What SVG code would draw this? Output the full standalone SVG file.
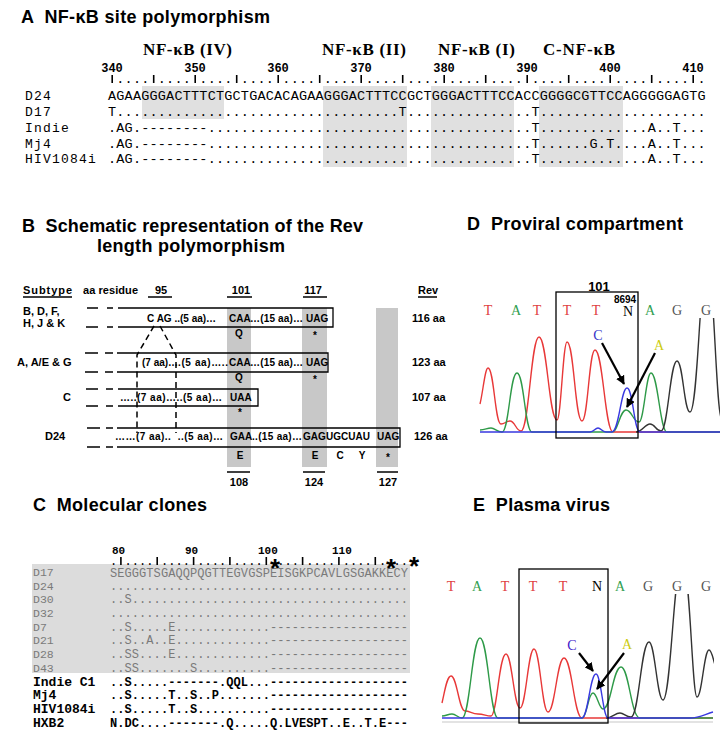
<svg xmlns="http://www.w3.org/2000/svg" width="720" height="736" viewBox="0 0 720 736">
<defs>
<style>
.ttl{font-family:"Liberation Sans",Arial,sans-serif;font-weight:bold;font-size:18px;fill:#000}
.nfk{font-family:"Liberation Serif","Times New Roman",serif;font-weight:bold;font-size:17px}
.num{font-family:"Liberation Mono","Courier New",monospace;font-weight:bold;font-size:12px}
.seq{font-family:"Liberation Mono","Courier New",monospace;font-size:13.5px}
.lbl{font-family:"Liberation Mono","Courier New",monospace;font-size:13px;letter-spacing:1.2px}
.bt{font-family:"Liberation Sans",Arial,sans-serif;font-weight:bold;font-size:10px}
.bh{font-family:"Liberation Sans",Arial,sans-serif;font-weight:bold;font-size:11px}
.base{font-family:"Liberation Serif","Times New Roman",serif;font-size:14px;text-anchor:middle}
.cseq{font-family:"Liberation Mono","Courier New",monospace;font-size:12px}
.cg{fill:#7a7a7a}
.clb{font-family:"Liberation Mono","Courier New",monospace;font-size:11.5px}
.clbb{font-family:"Liberation Mono","Courier New",monospace;font-size:13px;font-weight:bold}
.box{fill:none;stroke:#000;stroke-width:1.3}
.ln{stroke:#000;stroke-width:1.5}
.tick{stroke:#000;stroke-width:1.6}
.dash{stroke:#000;stroke-width:1.5;stroke-dasharray:6 4;fill:none}
.tr{fill:none;stroke-width:1.4}
.arr{stroke:#000;stroke-width:2.2;marker-end:url(#ah)}
.mid{text-anchor:middle}
</style>
<marker id="ah" viewBox="0 0 10 10" refX="9" refY="5" markerWidth="9" markerHeight="9" markerUnits="userSpaceOnUse" orient="auto"><path d="M0,0 L10,5 L0,10 z" fill="#000"/></marker>
<clipPath id="cD"><rect x="478" y="318" width="242" height="120"/></clipPath>
<clipPath id="cE"><rect x="440" y="594" width="274" height="130"/></clipPath>
</defs>
<rect width="720" height="736" fill="#fff"/>

<g id="panelA">
<text class="ttl" x="21" y="23" textLength="249" xml:space="preserve">A  NF-κB site polymorphism</text>
<g fill="#e0e0e0">
<rect x="142" y="86" width="82" height="33"/>
<rect x="323" y="86" width="84" height="81"/>
<rect x="431" y="86" width="83" height="81"/>
<rect x="539" y="86" width="84" height="81"/>
</g>
<text class="nfk" x="143" y="55" textLength="89">NF-κB (IV)</text>
<text class="nfk" x="322" y="55" textLength="84">NF-κB (II)</text>
<text class="nfk" x="438" y="55" textLength="77">NF-κB (I)</text>
<text class="nfk" x="543" y="55" textLength="72">C-NF-κB</text>
<g class="num mid">
<text x="112" y="72">340</text><text x="195" y="72">350</text><text x="278" y="72">360</text><text x="361" y="72">370</text>
<text x="444" y="72">380</text><text x="527" y="72">390</text><text x="610" y="72">400</text><text x="693" y="72">410</text>
</g>
<text class="seq" x="108" y="83" textLength="597.6" xml:space="preserve"> .... .... .... .... .... .... .... .... .... .... .... .... .... .... .</text>
<g class="tick">
<line x1="112.2" y1="75" x2="112.2" y2="83"/><line x1="153.7" y1="75" x2="153.7" y2="83"/><line x1="195.2" y1="75" x2="195.2" y2="83"/>
<line x1="236.7" y1="75" x2="236.7" y2="83"/><line x1="278.2" y1="75" x2="278.2" y2="83"/><line x1="319.7" y1="75" x2="319.7" y2="83"/>
<line x1="361.2" y1="75" x2="361.2" y2="83"/><line x1="402.7" y1="75" x2="402.7" y2="83"/><line x1="444.2" y1="75" x2="444.2" y2="83"/>
<line x1="485.7" y1="75" x2="485.7" y2="83"/><line x1="527.2" y1="75" x2="527.2" y2="83"/><line x1="568.7" y1="75" x2="568.7" y2="83"/>
<line x1="610.2" y1="75" x2="610.2" y2="83"/><line x1="651.7" y1="75" x2="651.7" y2="83"/><line x1="693.2" y1="75" x2="693.2" y2="83"/>
</g>
<g class="lbl">
<text x="25" y="100">D24</text>
<text x="25" y="116">D17</text>
<text x="25" y="132">Indie</text>
<text x="25" y="148">Mj4</text>
<text x="25" y="163">HIV1084i</text>
</g>
<g class="seq">
<text x="108" y="100" textLength="597.6">AGAAGGGACTTTCTGCTGACACAGAAGGGACTTTCCGCTGGGACTTTCCACCGGGGCGTTCCAGGGGGAGTG</text>
<text x="108" y="116" textLength="597.6">T..................................T...............T....................</text>
<text x="108" y="132" textLength="597.6">.AG.--------.......................................T.............A..T...</text>
<text x="108" y="148" textLength="597.6">.AG.--------.......................................T......G.T....A..T...</text>
<text x="108" y="163" textLength="597.6">.AG.--------.......................................T.............A..T...</text>
</g>
</g>

<g id="panelB">
<text class="ttl" x="22" y="232" textLength="341" xml:space="preserve">B  Schematic representation of the Rev</text>
<text class="ttl" x="97" y="252" textLength="188">length polymorphism</text>
<g fill="#c8c8c8">
<rect x="227" y="308" width="24" height="159"/>
<rect x="302" y="308" width="25" height="159"/>
<rect x="376" y="308" width="22" height="159"/>
</g>
<g class="bh">
<text x="23" y="294" textLength="49">Subtype</text>
<text x="83" y="294" textLength="55">aa residue</text>
<text x="161" y="294" class="mid">95</text>
<text x="241" y="294" class="mid">101</text>
<text x="313" y="294" class="mid">117</text>
<text x="418" y="294">Rev</text>
<text x="23" y="315">B, D, F,</text>
<text x="23" y="327">H, J &amp; K</text>
<text x="17" y="366">A, A/E &amp; G</text>
<text x="63" y="401">C</text>
<text x="45" y="440">D24</text>
<text x="412" y="322">116 aa</text>
<text x="412" y="366">123 aa</text>
<text x="412" y="401">107 aa</text>
<text x="414" y="440">126 aa</text>
<text x="239" y="486" class="mid">108</text>
<text x="314" y="486" class="mid">124</text>
<text x="388" y="486" class="mid">127</text>
</g>
<g class="ln">
<line x1="23" y1="297" x2="72" y2="297"/>
<line x1="148" y1="297" x2="172" y2="297"/>
<line x1="227" y1="297" x2="252" y2="297"/>
<line x1="303" y1="297" x2="327" y2="297"/>
<line x1="418" y1="297" x2="437" y2="297"/>
<line x1="227" y1="472" x2="250" y2="472"/>
<line x1="303" y1="472" x2="325" y2="472"/>
<line x1="377" y1="472" x2="398" y2="472"/>
<line x1="87" y1="308" x2="98" y2="308"/><line x1="107" y1="308" x2="113" y2="308"/>
<line x1="86" y1="327" x2="98" y2="327"/><line x1="107" y1="327" x2="113" y2="327"/>
<line x1="85" y1="353" x2="98" y2="353"/><line x1="105" y1="353" x2="113" y2="353"/>
<line x1="85" y1="372" x2="98" y2="372"/><line x1="105" y1="372" x2="113" y2="372"/>
<line x1="86" y1="389" x2="98" y2="389"/><line x1="106" y1="389" x2="113" y2="389"/>
<line x1="86" y1="406" x2="98" y2="406"/><line x1="106" y1="406" x2="113" y2="406"/>
<line x1="87" y1="428" x2="100" y2="428"/><line x1="106" y1="428" x2="113" y2="428"/>
<line x1="87" y1="447" x2="100" y2="447"/><line x1="106" y1="447" x2="113" y2="447"/>
</g>
<path class="box" d="M118 308 H333 V327 H118"/>
<path class="box" d="M117 353 H328 V372 H117"/>
<path class="box" d="M118 389 H258 V406 H118"/>
<path class="box" d="M117 428 H400 V447 H117"/>
<path class="dash" d="M154 326 L137 355 L137 433"/>
<path class="dash" d="M160 326 L176 355 L176 433"/>
<g class="bt">
<text x="147" y="322">C AG ..(5 aa)…</text>
<text x="229" y="322">CAA</text>
<text x="250" y="322" textLength="53">…(15 aa)…</text>
<text x="306" y="322">UAG</text>
<text x="142" y="366">(7 aa)…</text>
<text x="178" y="366" textLength="50">.(5 aa)…..</text>
<text x="229" y="366">CAA</text>
<text x="250" y="366" textLength="53">…(15 aa)…</text>
<text x="306" y="366">UAG</text>
<text x="120" y="401" textLength="102">…..(7 aa)…..(5 aa)…</text>
<text x="230" y="401">UAA</text>
<text x="115" y="440" textLength="108" xml:space="preserve">……(7 aa)..  ..(5 aa)…</text>
<text x="230" y="440">GAA</text>
<text x="252" y="440" textLength="50">..(15 aa)…</text>
<text x="303" y="440" textLength="67">GAGUGCUAU</text>
<text x="377" y="440">UAG</text>
<g class="mid">
<text x="239" y="337">Q</text><text x="315" y="339">*</text>
<text x="239" y="381">Q</text><text x="315" y="383">*</text>
<text x="240" y="416">*</text>
<text x="240" y="459">E</text><text x="315" y="459">E</text><text x="340" y="459">C</text><text x="362" y="459">Y</text><text x="388" y="461">*</text>
</g>
</g>
</g>

<g id="panelD">
<text class="ttl" x="467" y="230" textLength="216" xml:space="preserve">D  Proviral compartment</text>
<text x="599" y="291" class="mid" style="font-family:'Liberation Sans',Arial,sans-serif;font-weight:bold;font-size:13px">101</text>
<text x="625" y="303" class="mid" style="font-family:'Liberation Sans',Arial,sans-serif;font-weight:bold;font-size:10px">8694</text>
<g class="base">
<text x="488" y="315" fill="#e04040">T</text><text x="516" y="315" fill="#30a050">A</text><text x="537" y="315" fill="#e04040">T</text>
<text x="567" y="315" fill="#e04040">T</text><text x="596" y="315" fill="#e04040">T</text><text x="628" y="316" fill="#000">N</text>
<text x="650" y="315" fill="#30a050">A</text><text x="677" y="315" fill="#555">G</text><text x="706" y="315" fill="#555">G</text>
</g>
<g clip-path="url(#cD)">
<path class="tr" stroke="#e83838" d="M480 404 C483 392,485 368,488 368 C494 368,495 424,501 424 C505 424,506 421,510 421 C515 421,516 431,521 431 C529 431,531 337,539 337 C547 337,549 420,557 420 C561 420,563 342,567 342 C574 342,575 421,582 421 C588 421,589 350,595 350 C603 350,605 432,613 432 H720"/>
<path class="tr" stroke="#2e9a48" d="M480 430 C485 430,487 428,491 428 C495 428,497 432,502 432 C509 432,510 373,517 373 C524 373,525 432,532 432 H612 C618 432,620 410,626 410 C632 410,633 422,639 422 C644 422,646 373,651 373 C658 373,660 432,667 432 H720"/>
<path class="tr" stroke="#333" d="M636 432 C642 432,645 424,650 424 C655 424,656 431,661 431 C668 431,670 361,677 361 C683 361,684 412,690 412 C698 412,700 262,707 262 C714 262,716 420,722 420"/>
<path class="tr" stroke="#3838e0" d="M480 432 H590 C594 432,595 428,598 428 C601 428,602 432,606 432 H612 C619 432,621 388,627 388 C633 388,634 432,640 432 H720"/>
</g>
<rect class="box" x="556" y="292" width="82" height="146"/>
<text x="598" y="340" class="base" fill="#3535c8">C</text>
<text x="659" y="350" class="base" fill="#cccc10">A</text>
</g>

<g id="panelC">
<text class="ttl" x="33" y="511" textLength="174" xml:space="preserve">C  Molecular clones</text>
<rect x="32" y="564" width="378" height="109" fill="#dcdcdc"/>
<g class="num" style="font-size:11px">
<text x="112" y="554">80</text><text x="185" y="554">90</text><text x="258" y="554">100</text><text x="332" y="554">110</text>
</g>
<text class="cseq" x="110" y="565" textLength="298" xml:space="preserve">. .... .... .... .... .... .... .... ....</text>
<g class="tick">
<line x1="120.9" y1="557" x2="120.9" y2="565"/><line x1="157.2" y1="557" x2="157.2" y2="565"/><line x1="193.6" y1="557" x2="193.6" y2="565"/>
<line x1="229.9" y1="557" x2="229.9" y2="565"/><line x1="266.3" y1="557" x2="266.3" y2="565"/><line x1="302.6" y1="557" x2="302.6" y2="565"/>
<line x1="338.9" y1="557" x2="338.9" y2="565"/><line x1="375.3" y1="557" x2="375.3" y2="565"/>
</g>
<g class="clb cg">
<text x="33" y="576">D17</text>
<text x="33" y="590">D24</text>
<text x="33" y="603">D30</text>
<text x="33" y="617">D32</text>
<text x="33" y="631">D7</text>
<text x="33" y="644">D21</text>
<text x="33" y="658">D28</text>
<text x="33" y="672">D43</text>
</g>
<g class="clbb">
<text x="33" y="686" xml:space="preserve">Indie C1</text>
<text x="33" y="699">Mj4</text>
<text x="33" y="713">HIV1084i</text>
<text x="33" y="727">HXB2</text>
</g>
<g class="cseq cg">
<text x="110" y="577" textLength="298">SEGGGTSGAQQPQGTTEGVGSPEISGKPCAVLGSGAKKECY</text>
<text x="110" y="590" textLength="298">.........................................</text>
<text x="110" y="603" textLength="298">..S......................................</text>
<text x="110" y="617" textLength="298">.........................................</text>
<text x="110" y="631" textLength="298">..S.....E.............-------------------</text>
<text x="110" y="644" textLength="298">..S..A..E.............-------------------</text>
<text x="110" y="658" textLength="298">..SS....E.............-------------------</text>
<text x="110" y="672" textLength="298">..SS.......S..........-------------------</text>
</g>
<g class="cseq" style="font-weight:bold">
<text x="110" y="686" textLength="298">..S.....-------.QQL...-------------------</text>
<text x="110" y="699" textLength="298">..S.....T..S..P.......-------------------</text>
<text x="110" y="713" textLength="298">..S.....T..S..........-------------------</text>
<text x="110" y="727" textLength="298">N.DC....-------.Q.....Q.LVESPT..E..T.E---</text>
</g>
<g style="font-family:'Liberation Sans',Arial,sans-serif;font-weight:bold;font-size:26px" class="mid">
<text x="275" y="577">*</text><text x="391" y="577">*</text><text x="414" y="575">*</text>
</g>
</g>

<g id="panelE">
<text class="ttl" x="473" y="511" textLength="137" xml:space="preserve">E  Plasma virus</text>
<g class="base">
<text x="451" y="591" fill="#e04040">T</text><text x="477" y="591" fill="#30a050">A</text><text x="505" y="591" fill="#e04040">T</text>
<text x="533" y="591" fill="#e04040">T</text><text x="563" y="591" fill="#e04040">T</text><text x="597" y="591" fill="#000">N</text>
<text x="620" y="591" fill="#30a050">A</text><text x="648" y="591" fill="#555">G</text><text x="677" y="591" fill="#555">G</text><text x="706" y="591" fill="#555">G</text>
</g>
<line x1="442" y1="722" x2="713" y2="722" stroke="#c8c8c8" stroke-width="1.2"/>
<g clip-path="url(#cE)">
<path class="tr" stroke="#e83838" d="M442 703 C445 690,447 676,451 676 C457 676,459 711,465 711 C470 711,472 714,478 714 C484 714,486 716,491 716 C497 716,499 654,506 654 C512 654,514 708,520 708 C526 708,528 649,534 649 C540 649,542 712,548 712 C555 712,557 658,564 658 C572 658,574 718,582 718 H713"/>
<path class="tr" stroke="#2e9a48" d="M442 716 C446 716,448 714,452 714 C456 714,458 718,462 718 C470 718,472 638,480 638 C488 638,490 718,498 718 H582 C587 718,588 693,593 693 C597 693,599 709,603 709 C611 709,613 667,621 667 C629 667,631 718,640 718 H713"/>
<path class="tr" stroke="#333" d="M606 718 C612 718,615 713,620 713 C624 713,626 717,631 717 C639 717,641 642,649 642 C655 642,657 700,663 700 C671 700,674 560,682 560 C690 560,692 697,697 697 C702 697,704 650,709 650 C712 650,713 660,716 668"/>
<path class="tr" stroke="#3838e0" d="M442 718 H582 C588 718,590 674,596 674 C601 674,603 718,608 718 H690 C700 718,705 714,713 712"/>
</g>
<rect class="box" x="519" y="569" width="89" height="154"/>
<text x="572" y="650" class="base" fill="#4020c8">C</text>
<text x="627" y="649" class="base" fill="#cccc10">A</text>
</g>

<g id="connectors">
<line class="arr" x1="602" y1="343" x2="624" y2="384"/>
<line class="arr" x1="655" y1="353" x2="627" y2="407"/>
<line class="arr" x1="579" y1="653" x2="593" y2="671"/>
<line class="arr" x1="624" y1="653" x2="597" y2="689"/>
</g>
</svg>
